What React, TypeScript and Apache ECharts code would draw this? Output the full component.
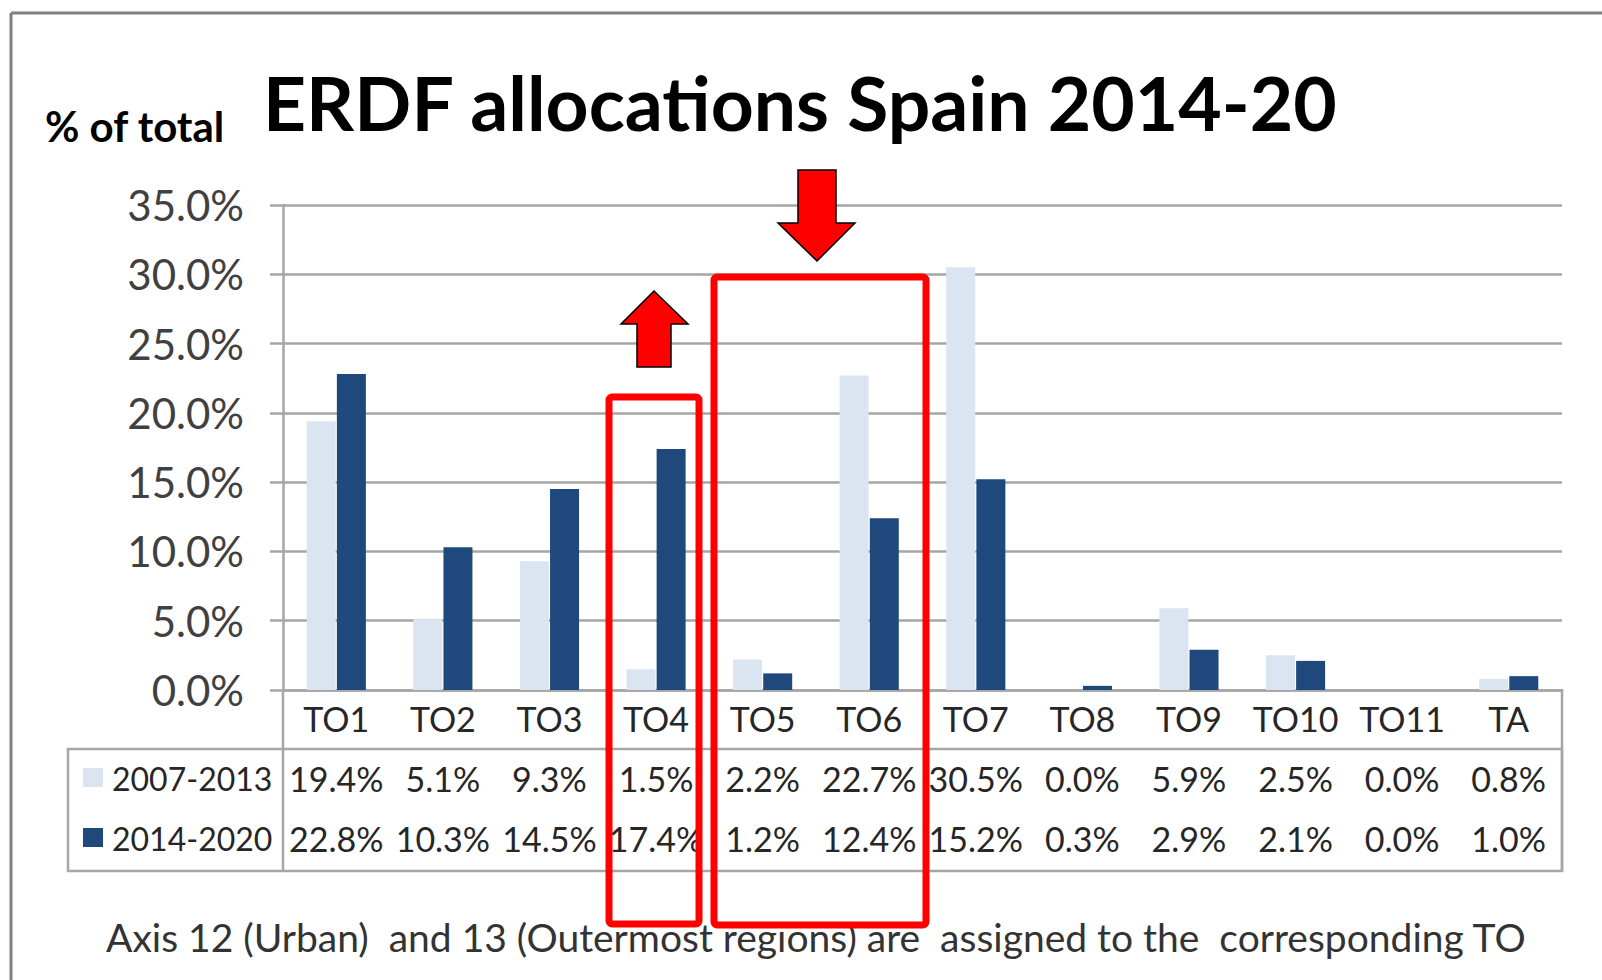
import React, { useEffect, useRef } from "react";
import * as echarts from "echarts";

const categories = ["TO1", "TO2", "TO3", "TO4", "TO5", "TO6", "TO7", "TO8", "TO9", "TO10", "TO11", "TA"];
const seriesNames = ["2007-2013", "2014-2020"];
const values2007 = [19.4, 5.1, 9.3, 1.5, 2.2, 22.7, 30.5, 0.0, 5.9, 2.5, 0.0, 0.8];
const values2014 = [22.8, 10.3, 14.5, 17.4, 1.2, 12.4, 15.2, 0.3, 2.9, 2.1, 0.0, 1.0];
const yTicks = { min: 0, max: 35, interval: 5 };
const titleText = "ERDF allocations Spain 2014-20";
const yUnitText = "% of total";
const footnoteText = "Axis 12 (Urban)  and 13 (Outermost regions) are  assigned to the  corresponding TO";

const FONT = "Lato";
const LIGHT = "#dbe5f1";
const DARK = "#1f497d";
const GRID = "#a6a6a6";
const TXT = "#262626";

const fmt = (v: number) => v.toFixed(1) + "%";

export default function App() {
  const ref = useRef<HTMLDivElement>(null);
  useEffect(() => {
    if (!ref.current) return;
    const chart = echarts.init(ref.current, undefined, { renderer: "svg" });
    const labelBase = {
      fontFamily: FONT,
      fontSize: 34,
      lineHeight: 34,
      color: TXT,
      margin: 11,
      interval: 0,
    };
    const upArrow = [
      [654, 291], [688, 324], [671, 324], [671, 367], [637, 367], [637, 324], [621, 324],
    ];
    const downArrow = [
      [798, 170], [836, 170], [836, 223], [855, 223], [817, 261], [778, 223], [798, 223],
    ];
    chart.setOption({
      animation: false,
      backgroundColor: "#ffffff",
      grid: { left: 283, right: 40, top: 205, bottom: 290, containLabel: false },
      xAxis: [
        {
          type: "category",
          data: categories,
          axisLine: { show: true, lineStyle: { color: GRID, width: 2.5 } },
          axisTick: { show: false },
          axisLabel: { ...labelBase },
          splitLine: { show: false },
        },
        {
          type: "category",
          data: categories,
          position: "bottom",
          offset: 60,
          axisLine: { show: false },
          axisTick: { show: false },
          axisLabel: { ...labelBase, formatter: (_v: string, i: number) => fmt(values2007[i]) },
        },
        {
          type: "category",
          data: categories,
          position: "bottom",
          offset: 120,
          axisLine: { show: false },
          axisTick: { show: false },
          axisLabel: { ...labelBase, formatter: (_v: string, i: number) => fmt(values2014[i]) },
        },
      ],
      yAxis: {
        type: "value",
        min: yTicks.min,
        max: yTicks.max,
        interval: yTicks.interval,
        axisLine: { show: true, lineStyle: { color: GRID, width: 2.5 } },
        axisTick: { show: true, length: 13, lineStyle: { color: GRID, width: 2.5 } },
        splitLine: { show: true, lineStyle: { color: GRID, width: 2.5 } },
        axisLabel: {
          fontFamily: FONT,
          fontSize: 42,
          color: "#404040",
          margin: 39,
          formatter: (v: number) => fmt(v),
        },
      },
      series: [
        {
          name: seriesNames[0],
          type: "bar",
          data: values2007,
          barWidth: 29,
          barGap: "4%",
          itemStyle: { color: LIGHT },
        },
        {
          name: seriesNames[1],
          type: "bar",
          data: values2014,
          barWidth: 29,
          barGap: "4%",
          itemStyle: { color: DARK },
        },
      ],
      graphic: [
        // outer frame (top and left edges)
        { type: "line", shape: { x1: 11, y1: 13, x2: 1602, y2: 13 }, style: { stroke: "#808080", lineWidth: 3 } },
        { type: "line", shape: { x1: 11, y1: 13, x2: 11, y2: 980 }, style: { stroke: "#808080", lineWidth: 3 } },
        // titles
        {
          type: "text", x: 263, y: 102,
          style: { text: titleText, font: `bold 75px ${FONT}`, fill: "#000", textAlign: "left", textVerticalAlign: "middle" },
        },
        {
          type: "text", x: 45, y: 126,
          style: { text: yUnitText, font: `bold 42px ${FONT}`, fill: "#000", textAlign: "left", textVerticalAlign: "middle" },
        },
        // data table borders
        { type: "line", shape: { x1: 283, y1: 690, x2: 283, y2: 871 }, style: { stroke: GRID, lineWidth: 2.5 } },
        { type: "line", shape: { x1: 1562, y1: 689, x2: 1562, y2: 871 }, style: { stroke: GRID, lineWidth: 2.5 } },
        { type: "rect", shape: { x: 68, y: 749, width: 1494, height: 122 }, style: { fill: "none", stroke: GRID, lineWidth: 2.5 } },
        // legend keys
        { type: "rect", shape: { x: 83, y: 768, width: 20, height: 19 }, style: { fill: LIGHT } },
        { type: "rect", shape: { x: 83, y: 828, width: 20, height: 19 }, style: { fill: DARK } },
        {
          type: "text", x: 112, y: 778,
          style: { text: seriesNames[0], font: `32px ${FONT}`, fill: TXT, textAlign: "left", textVerticalAlign: "middle" },
        },
        {
          type: "text", x: 112, y: 838,
          style: { text: seriesNames[1], font: `32px ${FONT}`, fill: TXT, textAlign: "left", textVerticalAlign: "middle" },
        },
        // footnote
        {
          type: "text", x: 106, y: 937,
          style: { text: footnoteText, font: `39px ${FONT}`, fill: "#333", textAlign: "left", textVerticalAlign: "middle" },
        },
        // red highlight boxes
        { type: "rect", shape: { x: 609, y: 397, width: 90, height: 527, r: 3 }, style: { fill: "none", stroke: "#ff0000", lineWidth: 7 }, z: 100 },
        { type: "rect", shape: { x: 714, y: 277, width: 212, height: 648, r: 3 }, style: { fill: "none", stroke: "#ff0000", lineWidth: 7 }, z: 100 },
        // arrows
        { type: "polygon", shape: { points: upArrow }, style: { fill: "#ff0000", stroke: "#000", lineWidth: 1.5 }, z: 100 },
        { type: "polygon", shape: { points: downArrow }, style: { fill: "#ff0000", stroke: "#000", lineWidth: 1.5 }, z: 100 },
      ],
    });
    return () => chart.dispose();
  }, []);
  return (
    <div
      ref={ref}
      style={{ position: "fixed", left: 0, top: 0, width: 1602, height: 980, background: "#fff" }}
    />
  );
}
